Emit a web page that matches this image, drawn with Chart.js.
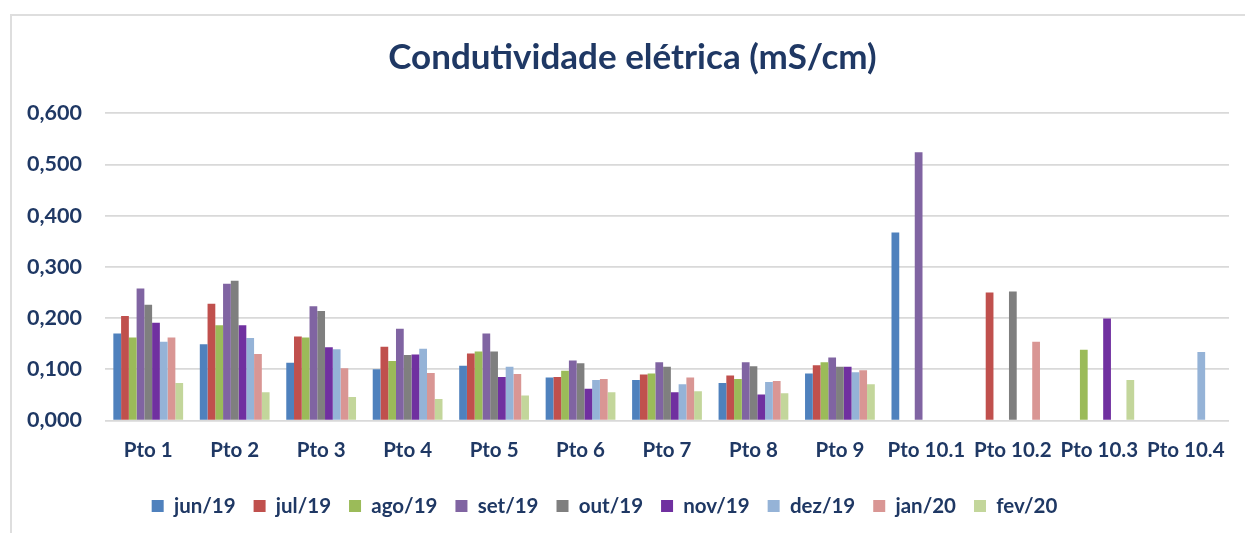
<!DOCTYPE html>
<html>
<head>
<meta charset="utf-8">
<script src="https://cdn.jsdelivr.net/npm/chart.js@4"></script>
<style>
  html, body { margin: 0; padding: 0; background: #fff; overflow: hidden; }
  #wrap { position: relative; width: 1245px; height: 533px; }
  #frame { position: absolute; left: 10px; top: 14px; width: 1300px; height: 600px; border: 2px solid #DEDEDE; box-sizing: border-box; }
  #c { position: absolute; left: 0; top: 0; }
</style>
</head>
<body>
<div id="wrap">
  <div id="frame"></div>
  <canvas id="c" width="1245" height="533"></canvas>
</div>
<script>
const categories = ['Pto 1','Pto 2','Pto 3','Pto 4','Pto 5','Pto 6','Pto 7','Pto 8','Pto 9','Pto 10.1','Pto 10.2','Pto 10.3','Pto 10.4'];
const seriesNames = ['jun/19','jul/19','ago/19','set/19','out/19','nov/19','dez/19','jan/20','fev/20'];
const seriesColors = ['#4F81BD','#C0504D','#9BBB59','#8064A2','#7F7F7F','#7030A0','#95B3D7','#D99694','#C3D69B'];
const jun19 = [0.170, 0.149, 0.113, 0.100, 0.107, 0.084, 0.079, 0.073, 0.092, 0.367, null, null, null];
const jul19 = [0.204, 0.228, 0.164, 0.144, 0.131, 0.085, 0.090, 0.088, 0.108, null, 0.250, null, null];
const ago19 = [0.162, 0.186, 0.162, 0.116, 0.135, 0.097, 0.092, 0.081, 0.114, null, null, 0.138, null];
const set19 = [0.258, 0.267, 0.223, 0.179, 0.170, 0.117, 0.114, 0.114, 0.123, 0.524, null, null, null];
const out19 = [0.226, 0.273, 0.214, 0.128, 0.135, 0.112, 0.105, 0.106, 0.105, null, 0.252, null, null];
const nov19 = [0.191, 0.186, 0.143, 0.129, 0.085, 0.062, 0.055, 0.051, 0.105, null, null, 0.199, null];
const dez19 = [0.154, 0.161, 0.139, 0.140, 0.105, 0.079, 0.071, 0.075, 0.094, null, null, null, 0.134];
const jan20 = [0.162, 0.130, 0.102, 0.093, 0.091, 0.081, 0.084, 0.077, 0.098, null, 0.154, null, null];
const fev20 = [0.073, 0.055, 0.046, 0.042, 0.049, 0.055, 0.057, 0.053, 0.071, null, null, 0.079, null];
const seriesValues = [jun19, jul19, ago19, set19, out19, nov19, dez19, jan20, fev20];
const yTicks = [0, 0.1, 0.2, 0.3, 0.4, 0.5, 0.6];

const TXT = '#1F3864';
const FONT = 'Lato';

const datasets = seriesNames.map((name, i) => ({
  label: name,
  data: seriesValues[i],
  backgroundColor: seriesColors[i],
  borderWidth: 0,
  categoryPercentage: 0.807,
  barPercentage: 1.0
}));

// shift title / legend horizontally to match the original's centring
const shiftPlugin = {
  id: 'shiftBlocks',
  afterLayout(chart) {
    if (chart.titleBlock) { chart.titleBlock.left += 18; chart.titleBlock.right += 18; }
    if (chart.legend) { chart.legend.left -= 10; chart.legend.right -= 10; }
  }
};

new Chart(document.getElementById('c'), {
  type: 'bar',
  data: { labels: categories, datasets },
  plugins: [shiftPlugin],
  options: {
    responsive: false,
    animation: false,
    layout: { padding: { left: 0, right: 16, top: 0, bottom: 6.75 } },
    plugins: {
      tooltip: { enabled: false },
      title: {
        display: true,
        text: 'Condutividade elétrica (mS/cm)',
        color: TXT,
        font: { family: FONT, size: 35, weight: 'bold', lineHeight: 1.2 },
        padding: { top: 36.5, bottom: 34.8 }
      },
      legend: {
        position: 'bottom',
        labels: {
          color: TXT,
          font: { family: FONT, size: 20.5, weight: 'bold' },
          boxWidth: 12,
          boxHeight: 12,
          padding: 18
        }
      }
    },
    scales: {
      x: {
        grid: { display: false, drawTicks: false },
        border: { display: false },
        ticks: { color: TXT, font: { family: FONT, size: 20.5, weight: 'bold' }, padding: 18, maxRotation: 0, autoSkip: false },
        afterFit: s => { s.height = 57.25; }
      },
      y: {
        min: 0, max: 0.6,
        afterBuildTicks: s => { s.ticks = yTicks.map(v => ({ value: v })); },
        grid: { color: '#D9D9D9', lineWidth: 1.7, drawTicks: false },
        border: { display: false },
        ticks: {
          color: TXT,
          font: { family: FONT, size: 21.5, weight: 'bold' },
          padding: 23,
          callback: v => Number(v).toFixed(3).replace('.', ',')
        },
        afterFit: s => { s.width = 105; }
      }
    }
  }
});
</script>
</body>
</html>
